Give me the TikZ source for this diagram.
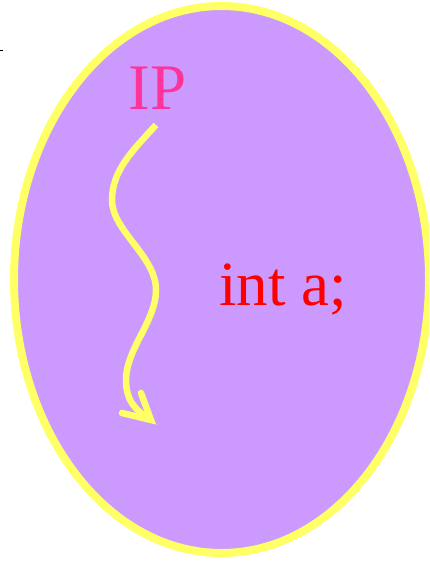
\documentclass[tikz,border=0pt]{standalone}
\usepackage{fontspec}
\setmainfont{Liberation Serif}
\usetikzlibrary{shapes.geometric}
\definecolor{lav}{HTML}{CC99FF}
\definecolor{ylw}{HTML}{FFFF66}
\definecolor{pinktxt}{HTML}{FF3399}
\definecolor{redtxt}{HTML}{FF0000}
\begin{document}
\begin{tikzpicture}[x=1pt,y=1pt,
  wave/.style={draw=ylw,line width=6.5pt},
  barb/.style={draw=ylw,line width=6.5pt,line cap=round,line join=miter}]
\useasboundingbox (0,0) rectangle (429,561);
\clip (0,0) rectangle (429,561);
\draw[black,line width=0.7pt] (0,511) -- (3,511);
\node[ellipse,draw=ylw,fill=lav,line width=8pt,minimum width=415pt,minimum height=547pt,inner sep=0pt] (cell) at (221.5,281.5) {};
\node[text=pinktxt,font=\fontsize{65}{65}\selectfont,anchor=base,inner sep=0pt] (ip) at (157.5,451) {IP};
\node[text=redtxt,font=\fontsize{63}{63}\selectfont,anchor=base,inner sep=0pt] (var) at (283,255) {int a;};
\coordinate (s) at (156,436);
\coordinate (t) at (151,141);
\draw[wave] (s) .. controls (132,410) and (112,390) .. (112,361)
  .. controls (112,330) and (156,305) .. (156,271)
  .. controls (156,240) and (126,212) .. (126,181)
  .. controls (126,160) and (136,150) .. (t);
\draw[barb] (122,148) -- (t) -- (141,168);
\end{tikzpicture}
\end{document}
